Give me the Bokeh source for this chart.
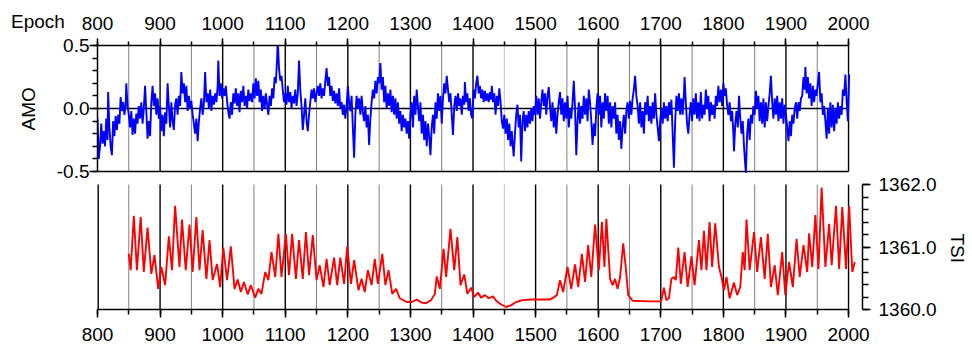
from bokeh.plotting import figure
from bokeh.layouts import column
from bokeh.models import (Range1d, SingleIntervalTicker, LinearAxis, Div, Title,
                          PrintfTickFormatter)
from bokeh.embed import file_html
from bokeh.resources import INLINE

# ---------------- data ----------------
amo_year = [
    800, 802, 804, 806, 808, 810, 812, 814, 816, 817, 819, 821, 823, 825, 827, 829, 831, 833, 835, 837,
    839, 841, 843, 845, 846, 848, 850, 852, 854, 856, 858, 860, 862, 864, 866, 868, 870, 872, 874, 876,
    878, 880, 882, 884, 886, 888, 890, 892, 894, 896, 898, 900, 902, 904, 906, 908, 910, 912, 914, 916,
    918, 920, 922, 924, 926, 928, 930, 932, 934, 936, 938, 940, 942, 944, 946, 948, 950, 952, 954, 956,
    958, 960, 962, 964, 966, 968, 970, 972, 974, 976, 978, 980, 982, 984, 986, 988, 990, 992, 993, 995,
    997, 999, 1001, 1003, 1005, 1007, 1009, 1011, 1013, 1015, 1017, 1019, 1021, 1023, 1025, 1027, 1029,
    1031, 1033, 1035, 1037, 1039, 1041, 1043, 1045, 1047, 1049, 1051, 1053, 1055, 1057, 1059, 1061,
    1063, 1065, 1067, 1069, 1071, 1073, 1075, 1077, 1079, 1081, 1083, 1085, 1087, 1088, 1090, 1092,
    1094, 1096, 1098, 1100, 1102, 1104, 1106, 1108, 1110, 1112, 1114, 1116, 1118, 1120, 1122, 1124,
    1126, 1128, 1130, 1132, 1134, 1136, 1138, 1140, 1142, 1144, 1146, 1148, 1150, 1152, 1154, 1156,
    1158, 1160, 1162, 1164, 1166, 1168, 1170, 1172, 1174, 1176, 1178, 1180, 1182, 1184, 1186, 1188,
    1190, 1192, 1194, 1196, 1198, 1200, 1202, 1204, 1206, 1208, 1210, 1212, 1214, 1216, 1218, 1220,
    1222, 1224, 1226, 1228, 1230, 1232, 1234, 1236, 1238, 1240, 1242, 1244, 1246, 1248, 1250, 1252,
    1254, 1256, 1258, 1260, 1262, 1264, 1266, 1268, 1270, 1272, 1274, 1276, 1278, 1280, 1282, 1284,
    1286, 1288, 1290, 1292, 1294, 1296, 1298, 1300, 1302, 1304, 1306, 1308, 1310, 1312, 1314, 1316,
    1318, 1320, 1322, 1324, 1326, 1328, 1330, 1332, 1334, 1336, 1338, 1340, 1342, 1344, 1346, 1348,
    1350, 1352, 1354, 1356, 1358, 1360, 1362, 1364, 1366, 1368, 1370, 1372, 1374, 1376, 1378, 1380,
    1382, 1384, 1386, 1387, 1389, 1391, 1393, 1395, 1397, 1399, 1401, 1403, 1405, 1407, 1409, 1411,
    1413, 1415, 1417, 1419, 1421, 1423, 1425, 1427, 1429, 1430, 1432, 1434, 1436, 1438, 1440, 1442,
    1444, 1446, 1448, 1450, 1452, 1454, 1456, 1458, 1460, 1462, 1464, 1465, 1467, 1469, 1471, 1473,
    1475, 1477, 1479, 1481, 1483, 1485, 1487, 1489, 1491, 1493, 1495, 1497, 1499, 1501, 1503, 1505,
    1507, 1509, 1511, 1513, 1515, 1517, 1519, 1521, 1523, 1525, 1527, 1529, 1531, 1533, 1535, 1537,
    1539, 1541, 1543, 1545, 1547, 1549, 1551, 1553, 1555, 1557, 1559, 1561, 1563, 1565, 1567, 1569,
    1571, 1573, 1575, 1577, 1579, 1581, 1583, 1585, 1587, 1589, 1591, 1593, 1595, 1597, 1599, 1601,
    1603, 1605, 1607, 1609, 1611, 1613, 1615, 1617, 1619, 1621, 1623, 1625, 1627, 1629, 1631, 1633,
    1635, 1637, 1639, 1641, 1643, 1645, 1647, 1649, 1651, 1653, 1655, 1657, 1659, 1661, 1663, 1665,
    1667, 1669, 1671, 1673, 1675, 1677, 1679, 1681, 1683, 1685, 1687, 1689, 1691, 1693, 1695, 1697,
    1699, 1701, 1703, 1705, 1707, 1709, 1711, 1713, 1715, 1717, 1719, 1721, 1723, 1725, 1727, 1729,
    1731, 1733, 1735, 1737, 1738, 1740, 1742, 1744, 1746, 1748, 1750, 1752, 1754, 1756, 1758, 1760,
    1762, 1764, 1766, 1768, 1770, 1772, 1774, 1776, 1778, 1780, 1782, 1784, 1786, 1788, 1790, 1792,
    1794, 1796, 1798, 1800, 1802, 1804, 1806, 1808, 1810, 1812, 1814, 1816, 1817, 1819, 1821, 1823,
    1825, 1827, 1829, 1831, 1833, 1835, 1836, 1838, 1840, 1842, 1844, 1846, 1848, 1850, 1852, 1854,
    1856, 1858, 1860, 1862, 1864, 1866, 1868, 1870, 1872, 1874, 1876, 1878, 1880, 1882, 1884, 1886,
    1888, 1890, 1892, 1894, 1896, 1898, 1900, 1902, 1904, 1906, 1908, 1910, 1912, 1914, 1916, 1918,
    1920, 1922, 1924, 1926, 1928, 1930, 1931, 1933, 1935, 1937, 1939, 1941, 1943, 1945, 1947, 1949,
    1951, 1953, 1955, 1957, 1959, 1961, 1963, 1965, 1967, 1969, 1971, 1973, 1975, 1977, 1979, 1981,
    1983, 1985, 1987, 1989, 1991, 1993, 1995, 1997, 1999, 2001,
]
amo_value = [
    -0.08, -0.40, -0.30, -0.12, -0.28, -0.18, -0.30, -0.08, -0.25, 0.13, -0.15, -0.30, -0.37, -0.10, -0.22, -0.06, -0.17, -0.05, -0.12, 0.09,
    -0.02, 0.05, -0.05, 0.03, 0.20, 0.02, -0.05, -0.15, -0.02, -0.21, -0.08, -0.20, -0.04, -0.12, 0.02, -0.08, 0.05, -0.12, 0.00, 0.18,
    -0.02, -0.24, -0.10, -0.22, 0.05, 0.18, 0.02, 0.12, -0.05, 0.08, -0.08, 0.02, -0.18, -0.05, -0.22, -0.03, -0.12, 0.20, 0.02, -0.15,
    0.05, -0.10, -0.17, 0.03, 0.08, -0.05, 0.10, 0.02, 0.29, 0.12, 0.20, 0.05, 0.18, -0.02, 0.10, 0.00, 0.06, -0.05, -0.12, -0.20,
    -0.08, -0.26, -0.10, 0.00, 0.08, -0.05, 0.04, 0.29, 0.05, 0.12, 0.00, 0.15, -0.02, 0.10, 0.03, 0.12, 0.05, 0.18, 0.38, 0.10,
    0.20, 0.08, 0.16, 0.10, 0.18, 0.06, -0.03, -0.08, 0.05, -0.05, 0.12, 0.04, 0.16, 0.02, 0.12, -0.03, 0.14,
    0.05, 0.18, 0.02, 0.10, 0.00, 0.15, 0.06, 0.12, 0.05, 0.20, 0.08, 0.24, 0.10, 0.22, 0.05, 0.15,
    -0.02, 0.10, 0.00, 0.12, 0.03, -0.05, 0.10, 0.02, 0.16, 0.08, 0.25, 0.20, 0.40, 0.55, 0.32, 0.22,
    0.26, 0.15, 0.05, 0.12, 0.03, 0.18, 0.05, 0.13, 0.00, 0.10, 0.04, 0.15, 0.02, 0.12, 0.38, 0.15,
    0.02, -0.17, -0.05, 0.08, -0.10, -0.18, -0.05, 0.05, 0.15, 0.08, 0.16, 0.05, 0.12, 0.18, 0.10, 0.20,
    0.08, 0.16, 0.10, 0.22, 0.32, 0.18, 0.25, 0.10, 0.18, 0.06, 0.14, 0.04, 0.12, 0.02, 0.16, 0.00,
    0.05, -0.05, 0.03, -0.08, 0.02, 0.18, 0.05, -0.02, 0.10, -0.15, -0.39, -0.05, 0.10, 0.00, 0.08, -0.05,
    0.10, -0.03, -0.10, 0.02, -0.15, -0.05, -0.29, -0.08, 0.05, 0.15, 0.08, 0.22, 0.12, 0.25, 0.20, 0.36,
    0.15, 0.25, 0.05, 0.18, 0.00, 0.12, 0.02, 0.15, -0.03, 0.10, -0.05, 0.08, -0.08, 0.05, -0.12, -0.02,
    -0.18, -0.05, -0.15, -0.08, -0.20, -0.10, -0.24, -0.05, 0.05, -0.15, 0.10, -0.05, 0.15, 0.02, -0.10, 0.05,
    -0.20, -0.05, -0.25, -0.10, -0.30, -0.12, -0.22, -0.37, -0.15, -0.05, -0.20, 0.05, -0.08, 0.12, -0.02, 0.10,
    -0.12, 0.08, 0.20, 0.12, 0.26, 0.15, 0.05, 0.12, -0.05, -0.21, 0.02, 0.10, -0.02, 0.12, 0.02, 0.08,
    -0.05, 0.10, 0.03, 0.21, 0.05, 0.12, -0.02, 0.08, -0.05, -0.08, 0.15, 0.08, 0.20, 0.26, 0.12, 0.18,
    0.08, 0.15, 0.05, 0.14, 0.06, 0.12, 0.05, 0.13, 0.07, 0.18, 0.05, 0.12, -0.05, 0.10, 0.02, 0.16,
    0.05, -0.10, -0.16, -0.05, -0.20, -0.08, -0.25, -0.12, -0.30, -0.18, -0.32, -0.38, -0.20, -0.05, 0.03, -0.15,
    -0.05, -0.42, -0.10, -0.02, -0.18, -0.05, -0.15, -0.02, -0.12, 0.00, -0.10, 0.02, -0.05, 0.10, -0.05, 0.08,
    -0.08, 0.05, 0.15, 0.02, 0.12, -0.05, 0.10, 0.17, 0.02, -0.10, 0.05, -0.15, 0.00, -0.20, -0.05, 0.05,
    0.13, -0.05, 0.08, -0.10, 0.05, -0.08, 0.10, -0.15, 0.00, -0.08, 0.05, 0.22, 0.00, -0.37, -0.10, 0.05,
    -0.12, 0.02, -0.08, 0.10, -0.05, 0.08, -0.10, 0.15, 0.05, -0.10, -0.29, -0.12, -0.22, 0.00, 0.12, -0.05,
    0.10, -0.15, 0.05, -0.08, 0.12, -0.02, 0.10, -0.12, 0.05, -0.15, 0.02, -0.08, 0.05, -0.20, -0.05, -0.25,
    -0.10, -0.32, -0.15, -0.05, -0.20, -0.02, 0.05, -0.08, 0.06, -0.05, 0.08, 0.15, 0.26, 0.10, 0.02, -0.12,
    0.05, -0.15, -0.02, -0.20, 0.05, -0.05, 0.10, -0.10, 0.02, -0.12, 0.05, -0.08, 0.12, -0.05, -0.15, -0.26,
    -0.10, 0.00, -0.12, 0.05, -0.08, 0.02, -0.10, 0.05, -0.05, 0.07, -0.20, -0.47, -0.10, 0.10, -0.02, 0.12,
    -0.05, 0.08, -0.05, 0.12, 0.25, 0.05, -0.12, -0.20, -0.05, 0.05, -0.10, 0.08, -0.05, 0.12, -0.08, 0.05,
    -0.10, 0.13, -0.08, 0.03, -0.05, 0.15, 0.00, 0.10, -0.10, 0.05, -0.05, 0.03, -0.08, 0.10, 0.02, 0.18,
    0.05, 0.15, 0.02, 0.20, 0.10, 0.16, 0.02, -0.05, 0.05, -0.10, -0.02, -0.20, -0.34, -0.12, -0.02, -0.15,
    0.10, -0.08, -0.20, -0.10, -0.30, -0.45, -0.51, -0.20, -0.08, -0.25, -0.05, -0.12, 0.02, -0.05, 0.14, 0.00,
    0.10, -0.10, 0.05, -0.12, 0.08, -0.15, 0.05, -0.10, 0.02, 0.12, 0.26, 0.05, -0.08, 0.08, -0.05, 0.10,
    -0.10, 0.05, -0.08, 0.08, -0.12, 0.03, -0.05, -0.15, -0.26, -0.10, -0.22, -0.05, -0.12, 0.00, 0.05, -0.08,
    0.05, -0.02, 0.08, 0.10, 0.25, 0.15, 0.33, 0.12, 0.25, 0.08, 0.20, 0.02, 0.18, 0.05, 0.15, 0.10,
    0.20, 0.29, 0.05, 0.12, -0.05, 0.02, -0.10, -0.24, 0.00, -0.20, 0.05, -0.15, 0.03, -0.18, 0.00, -0.12,
    0.05, -0.08, 0.02, -0.05, 0.15, 0.10, 0.27, 0.05, -0.10, 0.27,
]

tsi_year = [
    850, 853, 858, 863, 869, 874, 880, 886, 891, 897, 902, 908, 914, 919, 924, 931, 935, 941, 947, 952,
    958, 963, 968, 974, 979, 984, 991, 996, 1001, 1007, 1013, 1019, 1024, 1029, 1034, 1040, 1045, 1052,
    1057, 1062, 1068, 1073, 1078, 1084, 1089, 1094, 1101, 1106, 1111, 1117, 1122, 1128, 1133, 1138,
    1144, 1150, 1155, 1161, 1166, 1171, 1178, 1183, 1188, 1194, 1199, 1205, 1210, 1217, 1222, 1227,
    1232, 1238, 1243, 1248, 1255, 1260, 1265, 1271, 1277, 1283, 1294, 1302, 1310, 1318, 1325, 1333,
    1339, 1342, 1347, 1353, 1357, 1364, 1370, 1375, 1380, 1386, 1391, 1397, 1402, 1408, 1413, 1419,
    1425, 1432, 1437, 1445, 1453, 1461, 1469, 1479, 1495, 1522, 1527, 1534, 1539, 1544, 1551, 1557,
    1563, 1568, 1574, 1579, 1584, 1589, 1595, 1601, 1606, 1610, 1613, 1619, 1623, 1627, 1631, 1635,
    1640, 1644, 1648, 1655, 1681, 1700, 1701, 1705, 1709, 1713, 1717, 1721, 1724, 1728, 1732, 1738,
    1743, 1749, 1754, 1761, 1765, 1769, 1773, 1778, 1782, 1787, 1793, 1797, 1801, 1805, 1810, 1817,
    1822, 1827, 1831, 1834, 1837, 1842, 1849, 1854, 1860, 1866, 1871, 1876, 1882, 1887, 1894, 1899,
    1905, 1911, 1917, 1922, 1928, 1934, 1937, 1942, 1947, 1952, 1957, 1963, 1969, 1973, 1980, 1985,
    1990, 1996, 2001, 2006, 2010,
]
tsi_value = [
    1360.89, 1360.63, 1361.50, 1360.63, 1361.48, 1360.60, 1361.31, 1360.57, 1360.87, 1360.33, 1360.68,
    1360.39, 1361.17, 1360.63, 1361.66, 1360.68, 1361.44, 1360.63, 1361.36, 1360.60,
    1361.48, 1360.63, 1361.27, 1360.49, 1361.11, 1360.47, 1360.73, 1360.36, 1360.99, 1360.47, 1361.01,
    1360.33, 1360.48, 1360.28, 1360.44, 1360.24, 1360.39, 1360.19,
    1360.33, 1360.25, 1360.60, 1360.47, 1360.92, 1360.52, 1361.21, 1360.52, 1361.21, 1360.55, 1361.21,
    1360.49, 1361.11, 1360.49, 1361.24, 1360.55,
    1361.19, 1360.47, 1360.71, 1360.36, 1360.81, 1360.39, 1360.83, 1360.39, 1360.83, 1360.41, 1361.01,
    1360.41, 1360.79, 1360.31, 1360.49, 1360.28,
    1360.63, 1360.39, 1360.81, 1360.41, 1360.89, 1360.39, 1360.63, 1360.25, 1360.33, 1360.18, 1360.12,
    1360.12, 1360.16, 1360.11, 1360.10, 1360.15,
    1360.25, 1360.53, 1360.33, 1360.97, 1360.52, 1361.29, 1360.63, 1361.16, 1360.39, 1360.56, 1360.25,
    1360.35, 1360.20, 1360.27, 1360.19, 1360.23,
    1360.18, 1360.21, 1360.14, 1360.08, 1360.04, 1360.07, 1360.12, 1360.15, 1360.16, 1360.16, 1360.18,
    1360.23, 1360.47, 1360.28, 1360.68, 1360.33,
    1360.72, 1360.36, 1360.89, 1360.44, 1361.03, 1360.52, 1361.36, 1360.63, 1361.40, 1360.68, 1361.45,
    1360.49, 1360.39, 1360.49, 1360.33, 1360.52,
    1361.06, 1360.68, 1360.23, 1360.14, 1360.13, 1360.13, 1360.15, 1360.35, 1360.15, 1360.18, 1360.49,
    1360.52, 1360.47, 1360.99, 1360.41, 1360.92,
    1360.36, 1360.85, 1360.39, 1361.11, 1360.63, 1361.26, 1360.63, 1361.40, 1360.68, 1361.38, 1360.68,
    1360.52, 1360.31, 1360.52, 1360.18, 1360.43,
    1360.23, 1360.36, 1360.92, 1360.63, 1361.44, 1360.63, 1361.24, 1360.60, 1361.16, 1360.49, 1361.21,
    1360.36, 1360.71, 1360.23, 1360.92, 1360.23,
    1360.76, 1360.36, 1361.13, 1360.52, 1361.03, 1360.60, 1361.22, 1360.68, 1361.51, 1360.65, 1361.95,
    1360.68, 1361.37, 1360.71, 1361.66, 1360.65,
    1361.64, 1360.65, 1361.65, 1360.60, 1360.76,
]

year_major = [800, 900, 1000, 1100, 1200, 1300, 1400, 1500, 1600, 1700, 1800, 1900, 2000]
year_minor = [850, 950, 1050, 1150, 1250, 1350, 1550, 1650, 1750, 1850, 1950]
year_minor_light = [1450]

FONT = "Liberation Sans"
FS = "19px"

# geometry: one frame x 97..864, y 45..309
# top panel: AMO -0.5..0.5 over y 171..45 ; bottom panel: TSI 1360..1362 over y 309..184
X_END = 800 + 767 / 0.6275
AMO_LOW = 0.5 - 264 / 126.0
TSI_HIGH = 1360.0 + 264 / 62.5


def style_axis(ax, tick_out, minor_out):
    ax.axis_line_color = "black"
    ax.axis_line_width = 1.5
    ax.major_tick_line_color = "black"
    ax.major_tick_line_width = 1.5
    ax.minor_tick_line_color = "black"
    ax.minor_tick_line_width = 1.5
    ax.major_tick_in = 0
    ax.minor_tick_in = 0
    ax.major_tick_out = tick_out
    ax.minor_tick_out = minor_out
    ax.major_label_text_font = FONT
    ax.major_label_text_font_size = FS
    ax.major_label_text_color = "black"


p = figure(width=972, height=350, x_range=Range1d(800, X_END), y_range=Range1d(1360.0, TSI_HIGH),
           x_axis_location=None, y_axis_location=None,
           output_backend="svg", toolbar_location=None,
           min_border_left=97, min_border_right=108, min_border_top=45, min_border_bottom=41)
p.extra_y_ranges = {"amo": Range1d(AMO_LOW, 0.5)}
p.grid.visible = False
p.background_fill_color = "white"
p.border_fill_color = "white"
p.outline_line_color = None

# top axis (Epoch)
ax_top = LinearAxis(ticker=SingleIntervalTicker(interval=100, num_minor_ticks=2), bounds=(800, 2000))
style_axis(ax_top, 7, 4)
ax_top.major_label_standoff = 9
p.add_layout(ax_top, "above")

# bottom axis
ax_bot = LinearAxis(ticker=SingleIntervalTicker(interval=100, num_minor_ticks=2), bounds=(800, 2000))
style_axis(ax_bot, 8, 5)
ax_bot.major_label_standoff = 10
p.add_layout(ax_bot, "below")

# left axis: AMO
ax_left = LinearAxis(y_range_name="amo", ticker=SingleIntervalTicker(interval=0.5, num_minor_ticks=5),
                     formatter=PrintfTickFormatter(format="%.1f"), bounds=(-0.5, 0.5))
style_axis(ax_left, 8, 5)
ax_left.major_label_standoff = 0
p.add_layout(ax_left, "left")

# right axis: TSI
ax_right = LinearAxis(ticker=SingleIntervalTicker(interval=1, num_minor_ticks=5),
                      formatter=PrintfTickFormatter(format="%.1f"), bounds=(1360.0, 1362.0))
style_axis(ax_right, 8, 6)
ax_right.major_label_standoff = 8
p.add_layout(ax_right, "right")

# axis titles, placed beside their own panel
p.add_layout(Title(text="AMO", align="left", vertical_align="middle", offset=179, standoff=28,
                   text_font=FONT, text_font_size=FS, text_font_style="normal",
                   text_color="black"), "left")
p.add_layout(Title(text="TSI", align="left", vertical_align="top", offset=188, standoff=10,
                   text_font=FONT, text_font_size=FS, text_font_style="normal",
                   text_color="black"), "right")

# vertical grid lines, top panel (800 is the left axis line)
p.segment(x0=year_minor_light, y0=-0.5, x1=year_minor_light, y1=0.5, y_range_name="amo",
          line_color="#c0c0c0", line_width=1.0)
p.segment(x0=year_minor, y0=-0.5, x1=year_minor, y1=0.5, y_range_name="amo",
          line_color="#808080", line_width=1.0)
p.segment(x0=year_major[1:], y0=-0.5, x1=year_major[1:], y1=0.5, y_range_name="amo",
          line_color="black", line_width=1.4)
# box bottom and zero line, top panel
p.segment(x0=[800, 800], y0=[-0.5, 0.0], x1=[2000, 2000], y1=[-0.5, 0.0], y_range_name="amo",
          line_color="black", line_width=1.4)

# vertical grid lines, bottom panel
p.segment(x0=year_minor_light, y0=1360.0, x1=year_minor_light, y1=1362.0,
          line_color="#c0c0c0", line_width=1.0)
p.segment(x0=year_minor, y0=1360.0, x1=year_minor, y1=1362.0,
          line_color="#808080", line_width=1.0)
p.segment(x0=year_major[1:], y0=1360.0, x1=year_major[1:], y1=1362.0,
          line_color="black", line_width=1.4)
# the 800 line sits on the frame edge, where half of it is clipped
p.segment(x0=year_major[:1], y0=1360.0, x1=year_major[:1], y1=1362.0,
          line_color="black", line_width=2.8)

# data
p.line(amo_year, amo_value, y_range_name="amo", line_color="#0000ff", line_width=1.9)
p.line(tsi_year, tsi_value, line_color="#ff0000", line_width=1.9)

# "Epoch" caption at the left end of the top tick-label row
epoch = Div(text="Epoch", width=60, height=24,
            styles={"position": "absolute", "left": "11px", "top": "12px",
                    "font-family": FONT, "font-size": FS, "line-height": "1",
                    "color": "black", "margin": "0", "padding": "0"})

layout = column(p, epoch, spacing=0)
open("out.html", "w").write(file_html(layout, INLINE))
